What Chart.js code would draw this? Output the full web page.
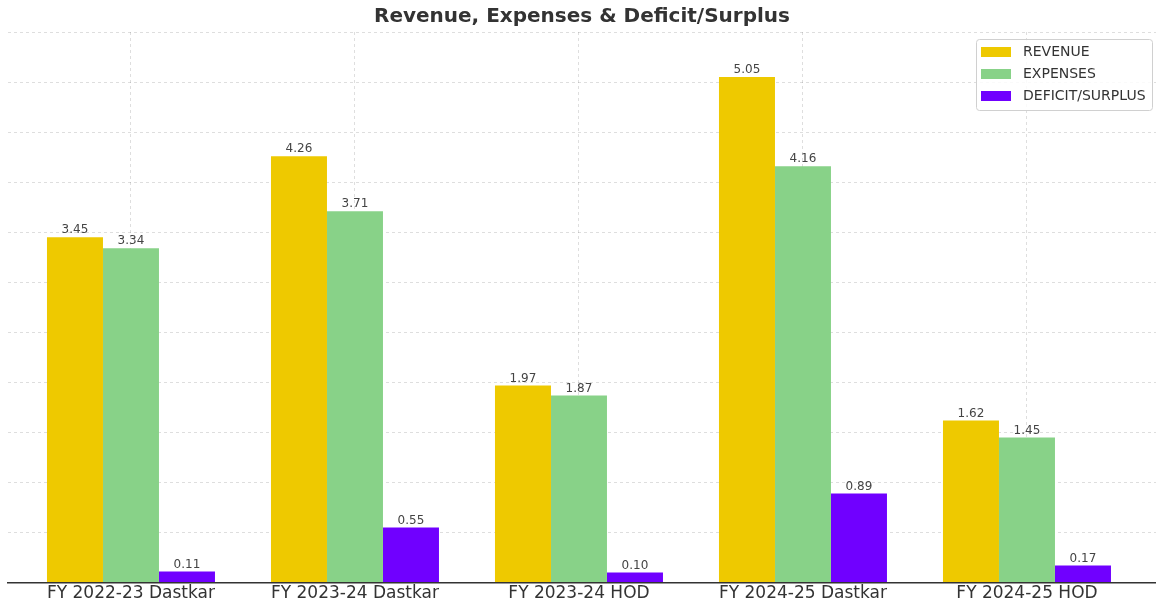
<!DOCTYPE html>
<html>
<head>
<meta charset="utf-8">
<script src="https://cdn.jsdelivr.net/npm/chart.js@4"></script>
<style>
  html, body { margin: 0; padding: 0; background: #fff; }
  #wrap { width: 1156px; height: 607px; position: relative; }
</style>
</head>
<body>
<div id="wrap"><canvas id="finChart"></canvas></div>
<script>
// Data (values in crore)
const categories = [
  "FY 2022-23 Dastkar",
  "FY 2023-24 Dastkar",
  "FY 2023-24 HOD",
  "FY 2024-25 Dastkar",
  "FY 2024-25 HOD",
];
const revenue = [3.45, 4.26, 1.97, 5.05, 1.62];
const expenses = [3.34, 3.71, 1.87, 4.16, 1.45];
const deficitSurplus = [0.11, 0.55, 0.1, 0.89, 0.17];
const seriesNames = ["REVENUE", "EXPENSES", "DEFICIT/SURPLUS"];

const toPoints = (arr) => arr.map((v, i) => ({ x: i, y: v }));

// value labels above each bar
const valueLabels = {
  id: "valueLabels",
  afterDatasetsDraw(chart) {
    const ctx = chart.ctx;
    ctx.save();
    ctx.font = "12px 'DejaVu Sans'";
    ctx.fillStyle = "#444";
    ctx.textAlign = "center";
    ctx.textBaseline = "bottom";
    chart.data.datasets.forEach((ds, di) => {
      chart.getDatasetMeta(di).data.forEach((bar, i) => {
        ctx.fillText(ds.data[i].y.toFixed(2), bar.x, bar.y - 1);
      });
    });
    ctx.restore();
  },
};

// boxed legend in the top right corner
const boxLegend = {
  id: "boxLegend",
  afterDraw(chart) {
    const ctx = chart.ctx;
    const x = chart.chartArea.right - 180, y = chart.chartArea.top + 7;
    ctx.save();
    ctx.fillStyle = "rgba(255,255,255,0.85)";
    ctx.strokeStyle = "#d0d0d0";
    ctx.lineWidth = 1;
    ctx.beginPath();
    ctx.roundRect(x + 0.5, y + 0.5, 176, 71, 3);
    ctx.fill();
    ctx.stroke();
    ctx.font = "14px 'DejaVu Sans'";
    ctx.textBaseline = "middle";
    chart.data.datasets.forEach((ds, i) => {
      const cy = y + 13 + i * 22;
      ctx.fillStyle = ds.backgroundColor;
      ctx.fillRect(x + 5, cy - 5, 30, 10);
      ctx.fillStyle = "#333";
      ctx.fillText(ds.label, x + 47, cy);
    });
    ctx.restore();
  },
};

const ctx = document.getElementById("finChart").getContext("2d");
new Chart(ctx, {
  type: "bar",
  data: {
    datasets: [
      {
        label: seriesNames[0],
        data: toPoints(revenue),
        backgroundColor: "#EEC900",
      },
      {
        label: seriesNames[1],
        data: toPoints(expenses),
        backgroundColor: "#88D288",
      },
      {
        label: seriesNames[2],
        data: toPoints(deficitSurplus),
        backgroundColor: "#7000FF",
      },
    ],
  },
  options: {
    responsive: true,
    maintainAspectRatio: false,
    animation: false,
    layout: { padding: { left: 8, right: 0, top: 0, bottom: 2 } },
    categoryPercentage: 0.75,
    barPercentage: 1.0,
    plugins: {
      legend: { display: false },
      tooltip: { enabled: false },
      title: {
        display: true,
        text: "Revenue, Expenses & Deficit/Surplus",
        color: "#333",
        font: { family: "DejaVu Sans", size: 20, weight: "bold" },
        padding: { top: 5, bottom: 3 },
      },
    },
    scales: {
      x: {
        type: "linear",
        offset: false,
        min: -0.549,
        max: 4.576,
        afterBuildTicks(scale) {
          scale.ticks = categories.map((c, i) => ({ value: i }));
        },
        ticks: {
          callback: (v) => categories[v],
          color: "#333",
          font: { family: "DejaVu Sans", size: 17 },
          maxRotation: 0,
          autoSkip: false,
          padding: 1,
        },
        grid: {
          offset: false,
          color: "rgba(0,0,0,0.13)",
          drawTicks: false,
        },
        border: { display: true, color: "#333", width: 1.5, dash: [3, 3] },
      },
      y: {
        min: 0,
        max: 5.5,
        ticks: { display: false, stepSize: 0.5 },
        grid: { color: "rgba(0,0,0,0.13)", drawTicks: false },
        border: { display: false, dash: [3, 3] },
      },
    },
  },
  plugins: [valueLabels, boxLegend],
});
</script>
</body>
</html>
